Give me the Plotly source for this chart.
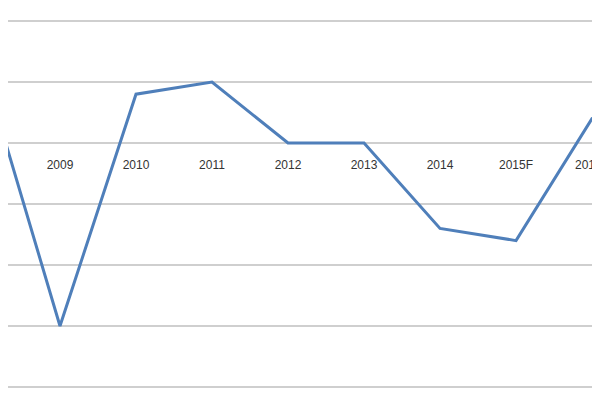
import plotly.graph_objects as go

years = ["2008", "2009", "2010", "2011", "2012", "2013", "2014", "2015F", "2016F", "2017F"]
growth = [1.2, -3.0, 0.8, 1.0, 0.0, 0.0, -1.4, -1.6, 0.4, 0.85]
label_y = [-0.38] * len(years)

idx = list(range(len(years)))
fig = go.Figure()
fig.add_trace(go.Scatter(x=idx, y=growth, mode="lines",
                         line=dict(color="#4f7fba", width=3), hoverinfo="skip"))
fig.add_trace(go.Scatter(x=idx, y=label_y, mode="text", text=years,
                         textfont=dict(family="Liberation Sans, Arial", size=12, color="#333333"),
                         hoverinfo="skip"))
fig.update_layout(
    width=600, height=400, margin=dict(l=0, r=0, t=0, b=0, pad=0, autoexpand=False),
    plot_bgcolor="white", paper_bgcolor="white", showlegend=False,
    xaxis=dict(range=[0.316, 8.21], showgrid=False, showticklabels=False, zeroline=False,
               automargin=False),
    yaxis=dict(range=[-4.344, 2.213], dtick=1, tick0=0, showgrid=True, gridcolor="#cfcfcf",
               gridwidth=1.5, showticklabels=False, zeroline=True, zerolinecolor="#cfcfcf",
               zerolinewidth=1.5, automargin=False),
)
fig.write_html("out.html")
